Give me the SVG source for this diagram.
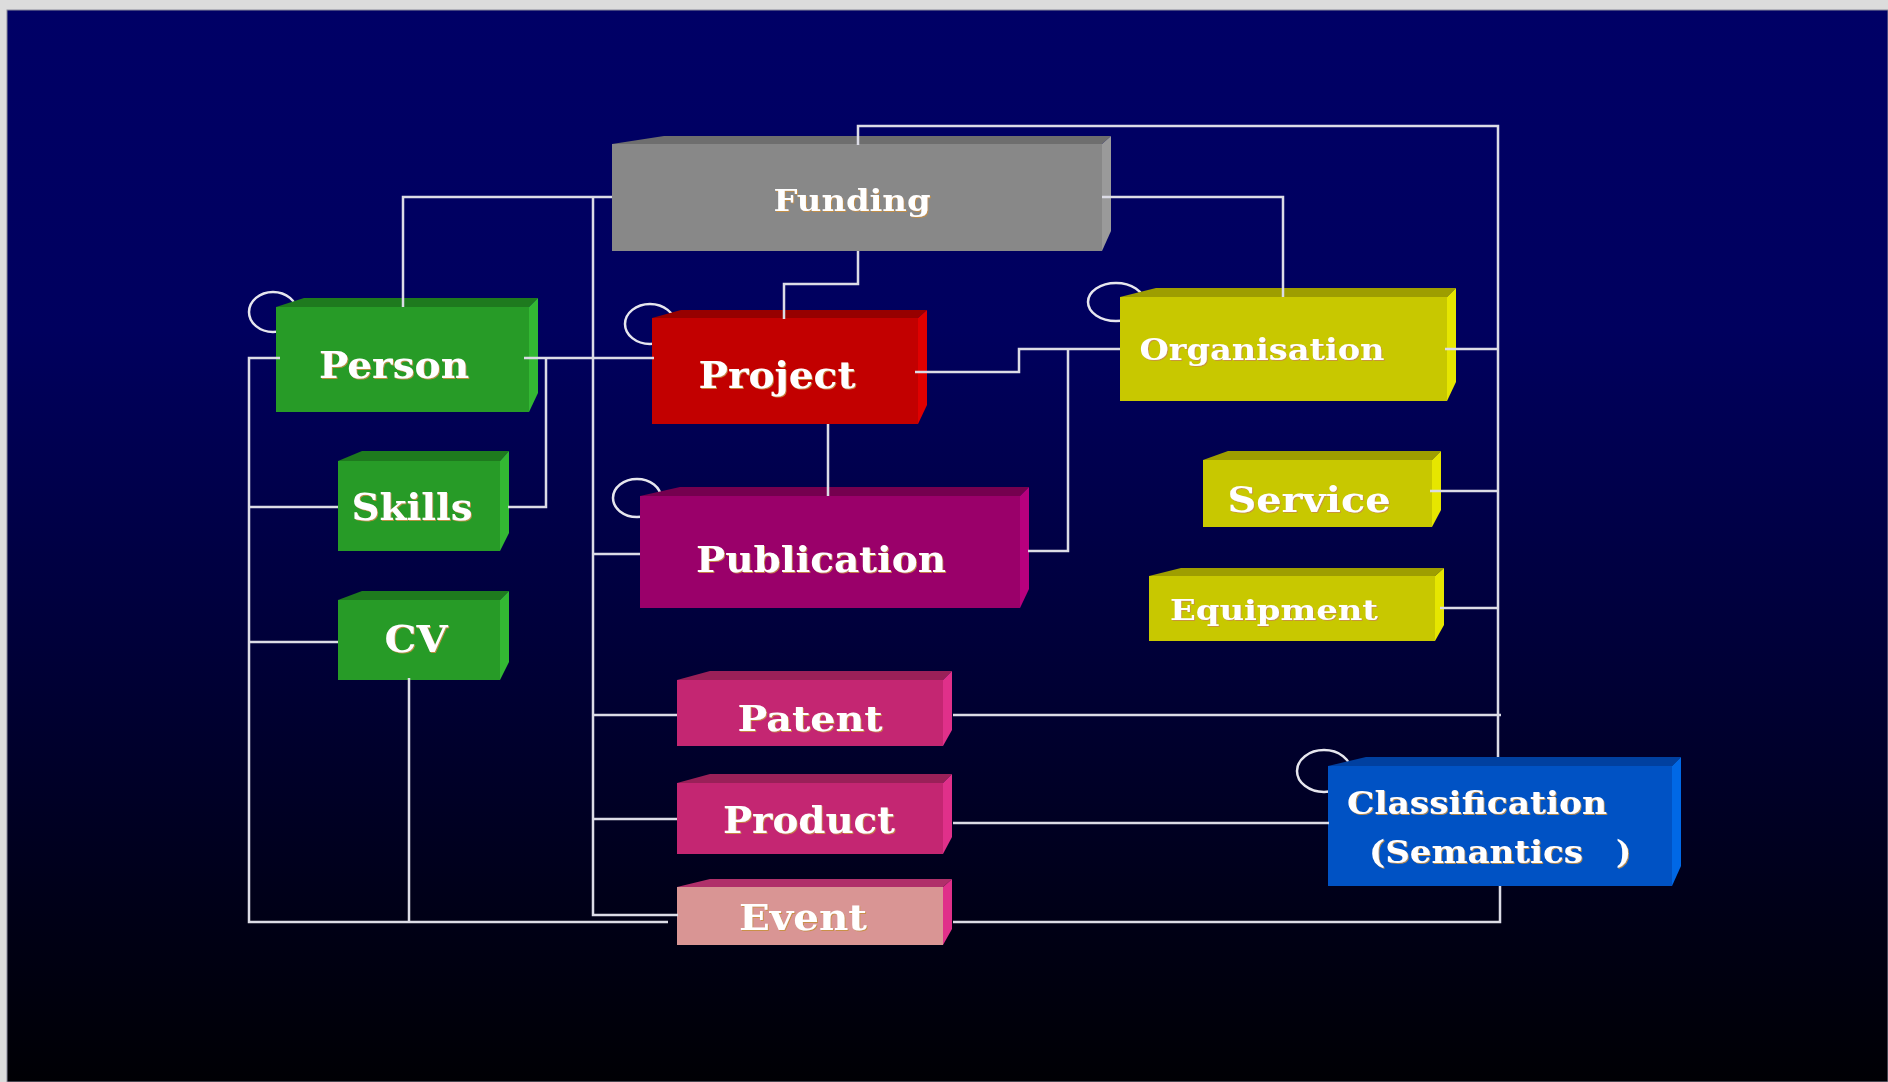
<svg xmlns="http://www.w3.org/2000/svg" width="1888" height="1082" viewBox="0 0 1888 1082">
<style>
.lbl{font-family:"DejaVu Serif","Liberation Serif",serif;font-weight:bold;fill:#ffffff;text-anchor:middle;filter:url(#glow)}
.lbl-s{font-family:"DejaVu Serif","Liberation Serif",serif;font-weight:bold;fill:#ffffff;filter:url(#glow)}
.ring{fill:none;stroke:#e6e6ee;stroke-width:2.5}
.con{fill:none;stroke:#dcdce6;stroke-width:2.5}
.gray .f{fill:#888888}.gray .t{fill:#6e6e6e}.gray .s{fill:#9a9a9a}
.green .f{fill:#279b27}.green .t{fill:#1e7a1e}.green .s{fill:#33b833}
.red .f{fill:#c20000}.red .t{fill:#970000}.red .s{fill:#e00000}
.yel .f{fill:#c8c800}.yel .t{fill:#9e9e00}.yel .s{fill:#e6e600}
.pub .f{fill:#9a006a}.pub .t{fill:#75004f}.pub .s{fill:#b8007e}
.pink .f{fill:#c42672}.pink .t{fill:#9a2058}.pink .s{fill:#e0308a}
.evt .f{fill:#d99594}.evt .t{fill:#b0306a}.evt .s{fill:#e0308a}
.blue .f{fill:#0052c4}.blue .t{fill:#0040a0}.blue .s{fill:#0068e6}
</style>
<defs>
<linearGradient id="bg" x1="0" y1="0" x2="0" y2="1">
<stop offset="0" stop-color="#000066"/>
<stop offset="0.3" stop-color="#00005e"/>
<stop offset="0.6" stop-color="#000038"/>
<stop offset="0.85" stop-color="#000016"/>
<stop offset="1" stop-color="#000004"/>
</linearGradient>
<filter id="glow" x="-10%" y="-20%" width="120%" height="140%">
<feDropShadow dx="1" dy="1" stdDeviation="0.6" flood-color="#c89040" flood-opacity="0.9"/>
</filter>
</defs>
<rect x="0" y="0" width="1888" height="1082" fill="#dcdcdc"/>
<rect x="7" y="10" width="1881" height="1072" fill="url(#bg)" stroke="#8a8a9a" stroke-width="1"/>

<g id="funding" class="gray">
<polygon class="t" points="612,144 664,136 1111,136 1102,144"/>
<polygon class="s" points="1102,144 1111,136 1111,231 1102,251"/>
<rect class="f" x="612" y="144" width="490" height="107"/>
<text class="lbl" x="852" y="211" font-size="30" textLength="157" lengthAdjust="spacingAndGlyphs">Funding</text>
</g>

<g id="person" class="green">
<ellipse class="ring" cx="273" cy="312" rx="24" ry="20"/>
<polygon class="t" points="276,307 304,298 538,298 529,307"/>
<polygon class="s" points="529,307 538,298 538,393 529,412"/>
<rect class="f" x="276" y="307" width="253" height="105"/>
<text class="lbl" x="394" y="378" font-size="37" textLength="150" lengthAdjust="spacingAndGlyphs">Person</text>
</g>

<g id="project" class="red">
<ellipse class="ring" cx="650" cy="324" rx="25" ry="20"/>
<polygon class="t" points="652,318 681,310 927,310 918,318"/>
<polygon class="s" points="918,318 927,310 927,405 918,424"/>
<rect class="f" x="652" y="318" width="266" height="106"/>
<text class="lbl" x="777" y="388" font-size="37" textLength="157" lengthAdjust="spacingAndGlyphs">Project</text>
</g>

<g id="organisation" class="yel">
<ellipse class="ring" cx="1116" cy="302" rx="28" ry="19"/>
<polygon class="t" points="1120,297 1156,288 1456,288 1447,297"/>
<polygon class="s" points="1447,297 1456,288 1456,382 1447,401"/>
<rect class="f" x="1120" y="297" width="327" height="104"/>
<text class="lbl" x="1262" y="360" font-size="30" textLength="245" lengthAdjust="spacingAndGlyphs">Organisation</text>
</g>

<g id="skills" class="green">
<polygon class="t" points="338,461 362,451 509,451 500,461"/>
<polygon class="s" points="500,461 509,451 509,533 500,551"/>
<rect class="f" x="338" y="461" width="162" height="90"/>
<text class="lbl" x="412" y="520" font-size="37" textLength="121" lengthAdjust="spacingAndGlyphs">Skills</text>
</g>

<g id="cv" class="green">
<polygon class="t" points="338,600 362,591 509,591 500,600"/>
<polygon class="s" points="500,600 509,591 509,662 500,680"/>
<rect class="f" x="338" y="600" width="162" height="80"/>
<text class="lbl" x="416" y="652" font-size="37" textLength="63" lengthAdjust="spacingAndGlyphs">CV</text>
</g>

<g id="publication" class="pub">
<ellipse class="ring" cx="637" cy="498" rx="24" ry="19"/>
<polygon class="t" points="640,496 680,487 1029,487 1020,496"/>
<polygon class="s" points="1020,496 1029,487 1029,589 1020,608"/>
<rect class="f" x="640" y="496" width="380" height="112"/>
<text class="lbl" x="821" y="572" font-size="35" textLength="250" lengthAdjust="spacingAndGlyphs">Publication</text>
</g>

<g id="service" class="yel">
<polygon class="t" points="1203,460 1228,451 1441,451 1432,460"/>
<polygon class="s" points="1432,460 1441,451 1441,510 1432,527"/>
<rect class="f" x="1203" y="460" width="229" height="67"/>
<text class="lbl" x="1309" y="512" font-size="36" textLength="163" lengthAdjust="spacingAndGlyphs">Service</text>
</g>

<g id="equipment" class="yel">
<polygon class="t" points="1149,576 1181,568 1444,568 1435,576"/>
<polygon class="s" points="1435,576 1444,568 1444,625 1435,641"/>
<rect class="f" x="1149" y="576" width="286" height="65"/>
<text class="lbl" x="1274" y="620" font-size="28" textLength="208" lengthAdjust="spacingAndGlyphs">Equipment</text>
</g>

<g id="patent" class="pink">
<polygon class="t" points="677,680 710,671 952,671 943,680"/>
<polygon class="s" points="943,680 952,671 952,730 943,746"/>
<rect class="f" x="677" y="680" width="266" height="66"/>
<text class="lbl" x="810" y="731" font-size="36" textLength="145" lengthAdjust="spacingAndGlyphs">Patent</text>
</g>

<g id="product" class="pink">
<polygon class="t" points="677,783 710,774 952,774 943,783"/>
<polygon class="s" points="943,783 952,774 952,837 943,854"/>
<rect class="f" x="677" y="783" width="266" height="71"/>
<text class="lbl" x="809" y="833" font-size="37" textLength="172" lengthAdjust="spacingAndGlyphs">Product</text>
</g>

<g id="event" class="evt">
<polygon class="t" points="677,887 710,879 952,879 943,887"/>
<polygon class="s" points="943,887 952,879 952,929 943,945"/>
<rect class="f" x="677" y="887" width="266" height="58"/>
<text class="lbl" x="803" y="930" font-size="35" textLength="128" lengthAdjust="spacingAndGlyphs">Event</text>
</g>

<g id="classification" class="blue">
<ellipse class="ring" cx="1324" cy="771" rx="27" ry="21"/>
<polygon class="t" points="1328,766 1366,757 1681,757 1672,766"/>
<polygon class="s" points="1672,766 1681,757 1681,866 1672,886"/>
<rect class="f" x="1328" y="766" width="344" height="120"/>
<text class="lbl-s" font-size="32"><tspan x="1347" y="814" textLength="260" lengthAdjust="spacingAndGlyphs">Classification</tspan><tspan x="1369" y="863" textLength="214" lengthAdjust="spacingAndGlyphs">(Semantics</tspan><tspan x="1616" y="863">)</tspan></text>
</g>

<g id="connectors">
<path class="con" d="M403,307 V197 H612"/>
<path class="con" d="M593,197 V915 H678"/>
<path class="con" d="M593,554 H640"/>
<path class="con" d="M593,715 H677"/>
<path class="con" d="M593,819 H677"/>
<path class="con" d="M524,358 H654"/>
<path class="con" d="M546,358 V507 H508"/>
<path class="con" d="M280,358 H249 V922 H668"/>
<path class="con" d="M249,507 H338"/>
<path class="con" d="M249,642 H338"/>
<path class="con" d="M409,678 V922"/>
<path class="con" d="M858,251 V284 H784 V319"/>
<path class="con" d="M858,145 V126 H1498 V757"/>
<path class="con" d="M1445,349 H1498"/>
<path class="con" d="M1430,491 H1498"/>
<path class="con" d="M1440,608 H1498"/>
<path class="con" d="M953,715 H1501"/>
<path class="con" d="M1102,197 H1283 V297"/>
<path class="con" d="M915,372 H1019 V349 H1120"/>
<path class="con" d="M1068,349 V551 H1028"/>
<path class="con" d="M828,424 V496"/>
<path class="con" d="M953,823 H1329"/>
<path class="con" d="M953,922 H1500 V886"/>
</g>
</svg>
